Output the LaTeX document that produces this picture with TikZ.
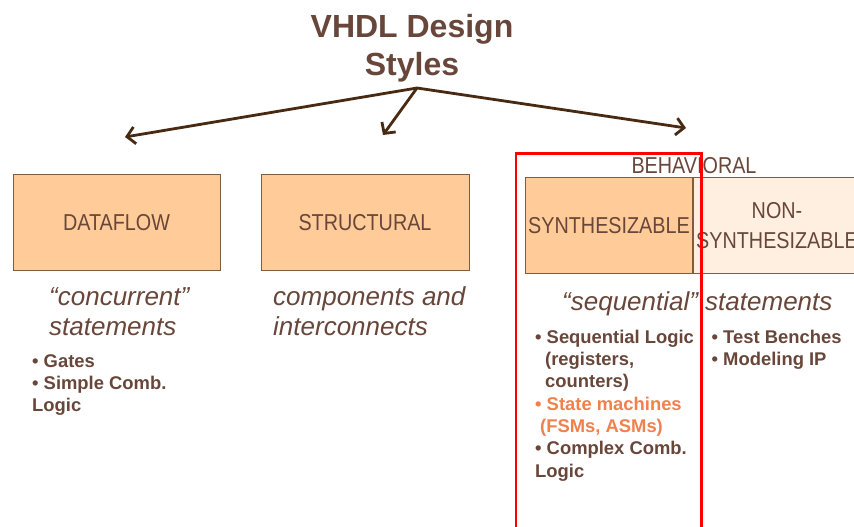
\documentclass[tikz,border=0pt]{standalone}
\usepackage{fontspec}
\setmainfont{Liberation Sans}
\newfontfamily\narrowsf[FakeStretch=0.86]{Liberation Sans}
\usetikzlibrary{arrows.meta}
\definecolor{textbrown}{RGB}{104,70,58}
\definecolor{arrowbrown}{RGB}{72,42,18}
\definecolor{peach}{RGB}{255,204,153}
\definecolor{lightpeach}{RGB}{255,239,225}
\definecolor{boxline}{RGB}{130,90,60}
\definecolor{fsmorange}{RGB}{240,128,76}
\tikzset{
  stylebox/.style={draw=boxline, line width=0.8, fill=peach, minimum height=96, inner sep=0,
    font=\narrowsf\fontsize{23}{30}\selectfont, text=textbrown, align=center},
  remark/.style={font=\itshape\fontsize{26}{30.7}\selectfont, text=textbrown, align=left, anchor=base west, inner sep=0},
  bullets/.style={font=\bfseries\fontsize{18.4}{22.3}\selectfont, text=textbrown, align=left, anchor=base west, inner sep=0},
}
\begin{document}
\begin{tikzpicture}[x=1pt, y=-1pt, >={Straight Barb[length=8pt, width=17pt]}]
\useasboundingbox (0,0) rectangle (854,527);
\clip (0,0) rectangle (854,527);
\node[text=textbrown, font=\bfseries\fontsize{32}{38}\selectfont, align=center, anchor=base, inner sep=0] (title) at (412,75) {VHDL Design\\Styles};
\coordinate (fork) at (417,88);
\coordinate (dfend) at (125,137);
\coordinate (stend) at (383,135);
\coordinate (bhend) at (686,128);
\draw[->, arrowbrown, line width=2.8] (fork)--(dfend);
\draw[->, arrowbrown, line width=2.8] (fork)--(stend);
\draw[->, arrowbrown, line width=2.8] (fork)--(bhend);
\node[stylebox, minimum width=207] (dataflow) at (116.5,222.8) {DATAFLOW};
\node[stylebox, minimum width=208] (structural) at (365,222.8) {STRUCTURAL};
\node[font=\narrowsf\fontsize{23}{30}\selectfont, text=textbrown, anchor=base, inner sep=0] (behavioral) at (694,173.3) {BEHAVIORAL};
\node[stylebox, minimum width=167.5] (synth) at (609,225.3) {SYNTHESIZABLE};
\node[stylebox, fill=lightpeach, minimum width=168] (nonsynth) at (777,225.3) {NON-\\SYNTHESIZABLE};
\node[remark] (concurrent) at (49,335.7) {“concurrent”\\statements};
\node[remark] (components) at (273,335.7) {components and\\interconnects};
\node[remark] (sequential) at (562,310) {“sequential” statements};
\node[bullets] (dflist) at (32,411.9) {• Gates\\• Simple Comb.\\Logic};
\node[bullets] (synlist) at (535,477.1) {• Sequential Logic\\\hspace*{10pt}(registers,\\\hspace*{10pt}counters)\\
  \textcolor{fsmorange}{• State machines}\\\hspace*{5pt}\textcolor{fsmorange}{(FSMs, ASMs)}\\• Complex Comb.\\Logic};
\node[bullets] (nslist) at (711.5,365.6) {• Test Benches\\• Modeling IP};
\draw[red, line width=2.7] (516,153.3) rectangle (701.7,545);
\end{tikzpicture}
\end{document}
